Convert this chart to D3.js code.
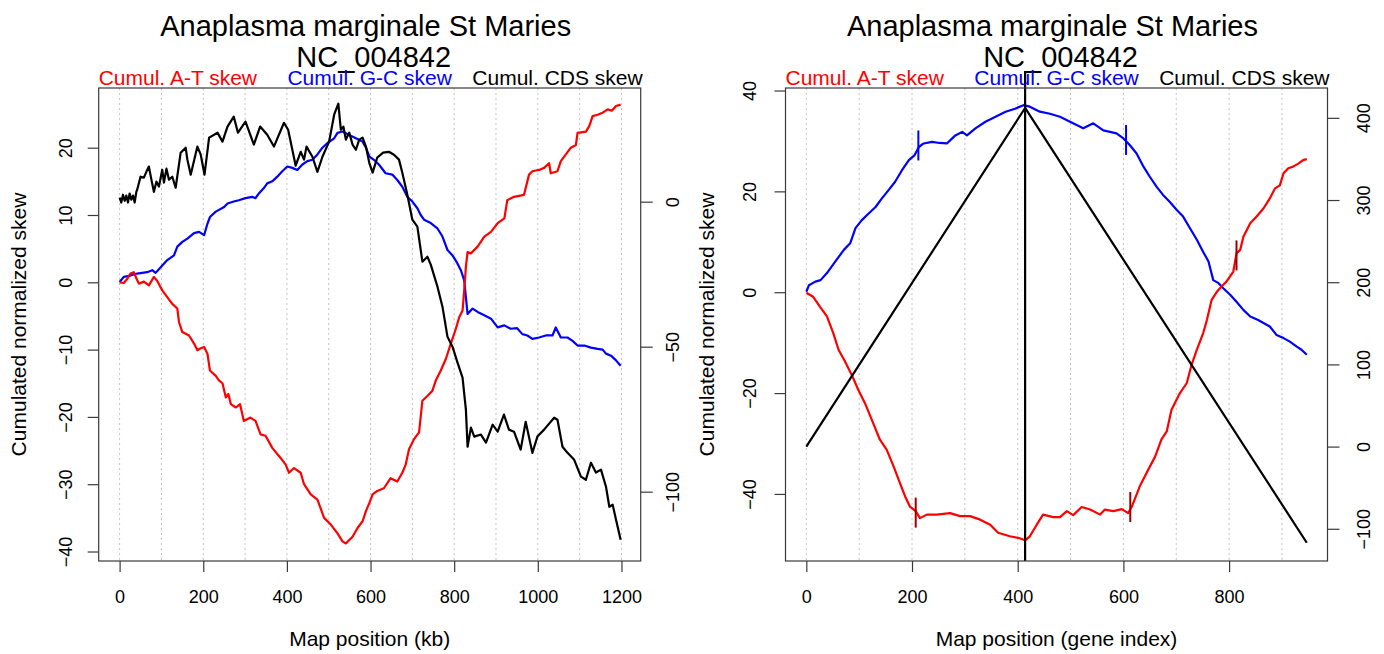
<!DOCTYPE html>
<html>
<head>
<meta charset="utf-8">
<script src="https://cdn.jsdelivr.net/npm/d3@7"></script>
<style>
  body { margin: 0; background: #fff; }
  svg { display: block; }
  text { font-family: "Liberation Sans", Arial, Helvetica, sans-serif; fill: #000; }
</style>
</head>
<body>
<svg id="chart" width="1384" height="654"></svg>
<script>
// ---------- Genome title ----------
const titleLines = ["Anaplasma marginale St Maries ", " NC_004842"];
const legendLabels = ["Cumul. A-T skew", "Cumul. G-C skew", "Cumul. CDS skew"];
const seriesColors = ["#ff0000", "#0000ff", "#000000"];

// ---------- Left panel: map position in kb ----------
const kbTicks = [0, 200, 400, 600, 800, 1000, 1200];
const kbGrid = [0, 100, 200, 300, 400, 500, 600, 700, 800, 900, 1000, 1100, 1200];
const kbLeftTicks = [-40, -30, -20, -10, 0, 10, 20];
const kbRightTicks = [-100, -50, 0];

// cumulated A-T skew
const kbAT = [0,10,18,26,34,40,46,58,70,82,90,102,114,126,138,142,150,166,178,186,194,202,210,216,230,238,246,254,260,266,278,288,297,313,325,337,349,365,385,397,405,417,433,441,457,473,489,505,521,533,541,549,557,569,581,589,597,605,616,632,648,664,676,684,692,704,716,724,736,748,756,768,780,792,804,812,820,824,828,832,840,856,872,888,904,920,927,943,967,979,987,1003,1015,1027,1031,1047,1055,1067,1079,1091,1095,1115,1123,1131,1143,1155,1167,1177,1187,1198];
const skewAT = [0,-0.1,0.5,1.3,1.5,0.6,-0.2,0.1,-0.45,0.8,0.2,-1.2,-2.2,-3.2,-3.9,-5.9,-7.4,-7.9,-9.1,-10.1,-9.8,-9.6,-10.6,-13.1,-13.9,-14.6,-15.0,-17.1,-16.6,-18.1,-18.6,-18.1,-20.6,-20.1,-20.6,-22.6,-22.8,-24.6,-26.1,-27.1,-28.3,-27.6,-28.3,-30.0,-31.5,-32.3,-35.0,-36.0,-37.3,-38.5,-38.8,-38.3,-37.8,-36.5,-35.5,-34.0,-32.8,-31.5,-31.0,-30.6,-29.1,-29.6,-28.3,-27.1,-24.8,-23.3,-22.3,-17.6,-16.9,-16.1,-14.6,-13.1,-11.4,-9.1,-6.9,-5.2,-4.2,-1.2,2.3,4.5,4.3,5.3,6.8,7.5,8.8,9.5,12.2,12.7,13.0,16.0,16.5,16.7,17.0,17.7,16.2,16.5,18.0,19.0,20.0,20.4,22.2,22.4,23.2,24.7,24.9,25.2,25.7,25.5,26.2,26.4];

// cumulated G-C skew
const kbGC = [0,10,26,42,66,78,86,102,114,130,138,150,162,178,190,202,210,216,230,250,258,273,285,301,317,325,333,345,353,365,377,389,401,413,425,437,449,461,473,485,497,513,521,533,549,565,581,589,597,608,620,636,652,664,676,688,700,712,720,728,744,760,772,784,796,806,816,824,828,832,844,856,872,888,904,920,935,950,963,975,987,1003,1019,1035,1043,1055,1071,1083,1095,1111,1127,1143,1155,1163,1175,1187,1198];
const skewGC = [0.05,0.8,1.0,1.3,1.5,1.8,1.4,2.5,3.3,4.0,5.3,6.0,6.5,7.3,7.5,7.0,8.7,9.7,10.5,11.2,11.7,12.0,12.2,12.5,12.7,12.5,13.2,14.0,14.7,15.0,15.7,16.5,17.2,17.0,16.7,17.5,18.0,18.2,19.0,20.0,20.7,21.4,22.2,22.4,21.9,21.4,20.9,20.0,18.7,18.2,17.5,16.2,16.0,15.2,14.2,12.7,12.0,11.0,10.0,9.3,8.8,8.0,6.8,4.8,4.0,3.0,1.8,0.3,-2.2,-4.7,-3.9,-4.4,-4.9,-5.4,-6.7,-6.4,-6.9,-6.8,-7.7,-7.9,-8.4,-8.2,-7.9,-7.9,-6.7,-8.2,-8.2,-8.7,-9.4,-9.4,-9.7,-9.9,-10.0,-10.6,-10.9,-11.6,-12.4];

// cumulated CDS skew (right axis)
const kbCDS = [0,4,8,12,16,20,24,28,32,36,40,42,50,58,64,70,76,82,88,94,102,106,112,118,126,134,146,158,162,170,186,194,203,214,226,234,246,258,273,283,301,321,336,353,369,393,403,421,433,441,447,461,473,485,501,513,523,529,535,541,549,557,565,573,581,589,597,605,616,630,644,656,668,676,688,700,712,724,736,744,760,772,784,796,808,820,828,832,840,848,864,876,892,904,919,931,943,959,971,987,999,1015,1039,1047,1059,1071,1087,1103,1115,1127,1139,1151,1163,1171,1179,1187,1198];
const skewCDS = [1.4,-0.3,2.4,0.3,2.1,-0.3,2.8,0.7,2.1,-0.3,3.4,4.1,8.6,8.3,10.3,12.1,7.6,3.4,6.9,5.2,11.0,6.6,11.4,7.6,8.6,4.8,16.9,18.6,14.5,9.3,19.0,16.2,9.3,22.1,23.1,23.8,20.7,25.9,29.3,23.8,27.6,19.7,25.9,23.1,19.0,27.2,24.8,12.4,17.2,14.5,19.0,15.5,10.3,15.5,20.7,30.0,33.8,24.8,25.9,21.4,23.8,19.7,17.9,21.4,22.1,19.0,13.4,10.0,15.2,16.9,17.2,16.2,14.5,10.0,2.4,-6.2,-8.6,-20.7,-19.0,-21.7,-29.3,-36.2,-46.6,-50.0,-55.5,-60.7,-71.7,-84.5,-77.9,-81.0,-80.3,-83.1,-76.9,-79.3,-73.4,-78.6,-79.3,-85.5,-75.9,-86.6,-81.0,-78.6,-74.5,-75.2,-84.5,-86.6,-89.0,-94.8,-95.9,-90.0,-93.4,-92.4,-98.3,-105.2,-104.5,-109.7,-116.6];

// ---------- Right panel: map position as gene index ----------
const geneTicks = [0, 200, 400, 600, 800];
const geneGrid = [0, 100, 200, 300, 400, 500, 600, 700, 800, 900];
const geneLeftTicks = [-40, -20, 0, 20, 40];
const geneRightTicks = [-100, 0, 100, 200, 300, 400];

const geneAT = [0,13,26,39,51,61,73,86,98,111,124,139,152,165,177,187,196,207,215,228,247,272,291,310,329,348,363,385,401,414,423,436,448,467,480,493,505,521,537,556,565,581,597,609,616,631,644,660,672,682,691,707,720,729,739,751,758,767,777,786,795,808,814,821,827,840,852,865,877,887,896,903,912,921,931,940,947];
const geneSkewAT = [-0.1,-0.9,-2.9,-4.8,-8.1,-11.4,-13.7,-16.4,-19.3,-22.0,-25.3,-29.2,-31.2,-34.5,-37.8,-40.5,-42.5,-43.4,-44.8,-44.1,-44.1,-43.8,-44.4,-44.4,-45.1,-46.1,-47.7,-48.4,-48.7,-49.2,-48.4,-46.1,-44.1,-44.6,-44.6,-43.4,-44.2,-42.6,-43.1,-44.1,-43.1,-43.4,-43.0,-43.8,-42.5,-38.5,-35.8,-32.6,-29.2,-27.6,-23.3,-20.0,-18.0,-14.4,-11.4,-8.1,-5.5,-1.5,0.1,1.2,2.1,4.1,7.7,8.4,11.0,13.7,15.0,16.6,18.6,20.6,21.2,23.6,24.6,24.9,25.5,26.2,26.4];

const geneGC = [0,5,17,27,39,55,71,83,93,105,118,131,143,156,168,181,194,205,213,222,238,252,266,282,295,304,320,339,358,377,395,411,423,442,461,480,499,524,543,562,587,600,612,625,638,650,663,675,688,701,713,726,739,751,761,770,780,789,802,814,827,840,855,865,877,890,903,915,928,937,947];
const geneSkewGC = [0.1,1.4,2.1,2.4,3.8,6.1,8.4,9.7,12.7,14.3,15.6,16.9,18.6,20.3,21.9,24.2,26.2,27.2,28.8,29.5,29.8,29.6,29.5,31.1,31.8,31.1,32.5,33.8,34.8,35.8,36.4,37.1,36.8,35.8,35.4,34.8,33.8,32.5,33.5,32.1,31.5,30.5,29.2,27.5,24.9,22.9,20.9,19.3,17.9,16.3,15.0,12.7,10.4,8.0,6.1,2.4,1.8,0.8,-0.5,-1.9,-3.5,-4.8,-5.5,-6.1,-6.8,-8.5,-9.1,-9.8,-10.8,-11.4,-12.4];

// cumulated CDS skew by gene (right axis): rises to the origin/terminus switch, then falls
const geneCDS = [0, 414, 947];
const geneSkewCDS = [0, 412, -117];
const switchGene = 414;

// extreme positions marked on the G-C and A-T curves
const gcMarkGene = [212, 605];
const gcMarkSkew = [29.1, 30.2];
const atMarkGene = [207, 613, 814];
const atMarkSkew = [-43.7, -42.6, 7.3];

// ---------- drawing ----------
const svg = d3.select("#chart");
const axisColor = "#3a3a3a";

function drawPanel(p) {
  const x = d3.scaleLinear().domain(p.xDomain).range([p.left, p.right]);
  const yL = d3.scaleLinear().domain(p.yDomain).range([p.bottom, p.top]);
  const yR = d3.scaleLinear().domain(p.y2Domain).range([p.bottom, p.top]);
  const g = svg.append("g");
  const cx = (p.left + p.right) / 2;

  // vertical dotted grid
  g.append("g").selectAll("line").data(p.grid).join("line")
    .attr("x1", d => x(d)).attr("x2", d => x(d))
    .attr("y1", p.top).attr("y2", p.bottom)
    .attr("stroke", "#c3c3c3").attr("stroke-width", 1)
    .attr("stroke-dasharray", "2,3");

  const path = (xs, ys, sy, color) => g.append("path")
    .datum(d3.zip(xs, ys))
    .attr("fill", "none").attr("stroke", color).attr("stroke-width", 2.2)
    .attr("stroke-linejoin", "round")
    .attr("d", d3.line().x(d => x(d[0])).y(d => sy(d[1])));

  path(p.gc[0], p.gc[1], yL, seriesColors[1]);
  path(p.at[0], p.at[1], yL, seriesColors[0]);
  if (p.switchAt !== undefined) {
    g.append("line")
      .attr("x1", x(p.switchAt)).attr("x2", x(p.switchAt))
      .attr("y1", p.switchTop).attr("y2", p.bottom)
      .attr("stroke", "#000").attr("stroke-width", 2.2);
  }
  path(p.cds[0], p.cds[1], yR, seriesColors[2]);

  // "|" marks on curves
  if (p.marks) {
    p.marks.forEach(m => {
      g.append("g").selectAll("line").data(d3.zip(m.xs, m.ys)).join("line")
        .attr("x1", d => x(d[0])).attr("x2", d => x(d[0]))
        .attr("y1", d => yL(d[1]) - 15).attr("y2", d => yL(d[1]) + 15)
        .attr("stroke", m.color).attr("stroke-width", 2);
    });
  }

  // box
  g.append("rect")
    .attr("x", p.left).attr("y", p.top)
    .attr("width", p.right - p.left).attr("height", p.bottom - p.top)
    .attr("fill", "none").attr("stroke", axisColor).attr("stroke-width", 1.2);

  // bottom axis
  const ax = g.append("g").attr("transform", `translate(0,${p.bottom})`)
    .call(d3.axisBottom(x).tickValues(p.xTicks).tickSize(11).tickFormat(d3.format("d")));
  ax.select(".domain").remove();
  ax.selectAll(".tick line").attr("stroke", axisColor).attr("stroke-width", 1.2);
  ax.selectAll(".tick text").attr("y", 42).attr("dy", null)
    .attr("font-size", 18).attr("fill", "#222").style("font-family", null);

  // left axis with labels parallel to the axis
  const al = g.append("g").attr("transform", `translate(${p.left},0)`)
    .call(d3.axisLeft(yL).tickValues(p.yTicks).tickSize(11).tickFormat(d3.format("d")));
  al.select(".domain").remove();
  al.selectAll(".tick line").attr("stroke", axisColor).attr("stroke-width", 1.2);
  al.selectAll(".tick text").attr("x", null).attr("dy", null)
    .attr("text-anchor", "middle")
    .attr("transform", `translate(${-p.leftLabelGap},0) rotate(-90)`)
    .attr("font-size", 18).attr("fill", "#222").style("font-family", null);

  // right axis for the CDS skew
  const ar = g.append("g").attr("transform", `translate(${p.right},0)`)
    .call(d3.axisRight(yR).tickValues(p.y2Ticks).tickSize(12).tickFormat(d3.format("d")));
  ar.select(".domain").remove();
  ar.selectAll(".tick line").attr("stroke", axisColor).attr("stroke-width", 1.2);
  ar.selectAll(".tick text").attr("x", null).attr("dy", null)
    .attr("text-anchor", "middle")
    .attr("transform", `translate(${p.rightLabelGap},0) rotate(-90)`)
    .attr("font-size", 18).attr("fill", "#222").style("font-family", null);

  // axis titles
  g.append("text").attr("x", cx).attr("y", 646)
    .attr("text-anchor", "middle").attr("font-size", 21).text(p.xTitle);
  g.append("text")
    .attr("transform", `translate(${p.yTitleX},${(p.top + p.bottom) / 2}) rotate(-90)`)
    .attr("text-anchor", "middle").attr("font-size", 21).text("Cumulated normalized skew");

  // two-line title
  titleLines.forEach((t, i) => {
    g.append("text").attr("x", cx).attr("y", 36 + i * 30.5)
      .attr("text-anchor", "middle").attr("font-size", 29)
      .style("white-space", "pre").text(t);
  });

  // legend line above the box
  const anchors = ["start", "middle", "end"];
  const lx = [p.left, cx, p.right + 2];
  legendLabels.forEach((t, i) => {
    g.append("text").attr("x", lx[i]).attr("y", 84.5)
      .attr("text-anchor", anchors[i]).attr("font-size", 21)
      .attr("fill", seriesColors[i]).style("fill", seriesColors[i]).text(t);
  });
}

drawPanel({
  left: 98.7, right: 640.7, top: 88, bottom: 561,
  xDomain: [-50, 1246], yDomain: [-41.41, 28.87], y2Domain: [-123.9, 39.2],
  xTicks: kbTicks, grid: kbGrid, yTicks: kbLeftTicks, y2Ticks: kbRightTicks,
  at: [kbAT, skewAT], gc: [kbGC, skewGC], cds: [kbCDS, skewCDS],
  leftLabelGap: 27, rightLabelGap: 38, yTitleX: 26,
  xTitle: "Map position (kb)"
});

drawPanel({
  left: 785.5, right: 1327.5, top: 88, bottom: 561,
  xDomain: [-39.4, 986.2], yDomain: [-53.3, 40.5], y2Domain: [-139.2, 436.3],
  xTicks: geneTicks, grid: geneGrid, yTicks: geneLeftTicks, y2Ticks: geneRightTicks,
  at: [geneAT, geneSkewAT], gc: [geneGC, geneSkewGC], cds: [geneCDS, geneSkewCDS],
  switchAt: switchGene, switchTop: 71,
  marks: [
    { xs: gcMarkGene, ys: gcMarkSkew, color: "#0000ff" },
    { xs: atMarkGene, ys: atMarkSkew, color: "#990000" }
  ],
  leftLabelGap: 30, rightLabelGap: 42, yTitleX: 714,
  xTitle: "Map position (gene index)"
});
</script>
</body>
</html>
